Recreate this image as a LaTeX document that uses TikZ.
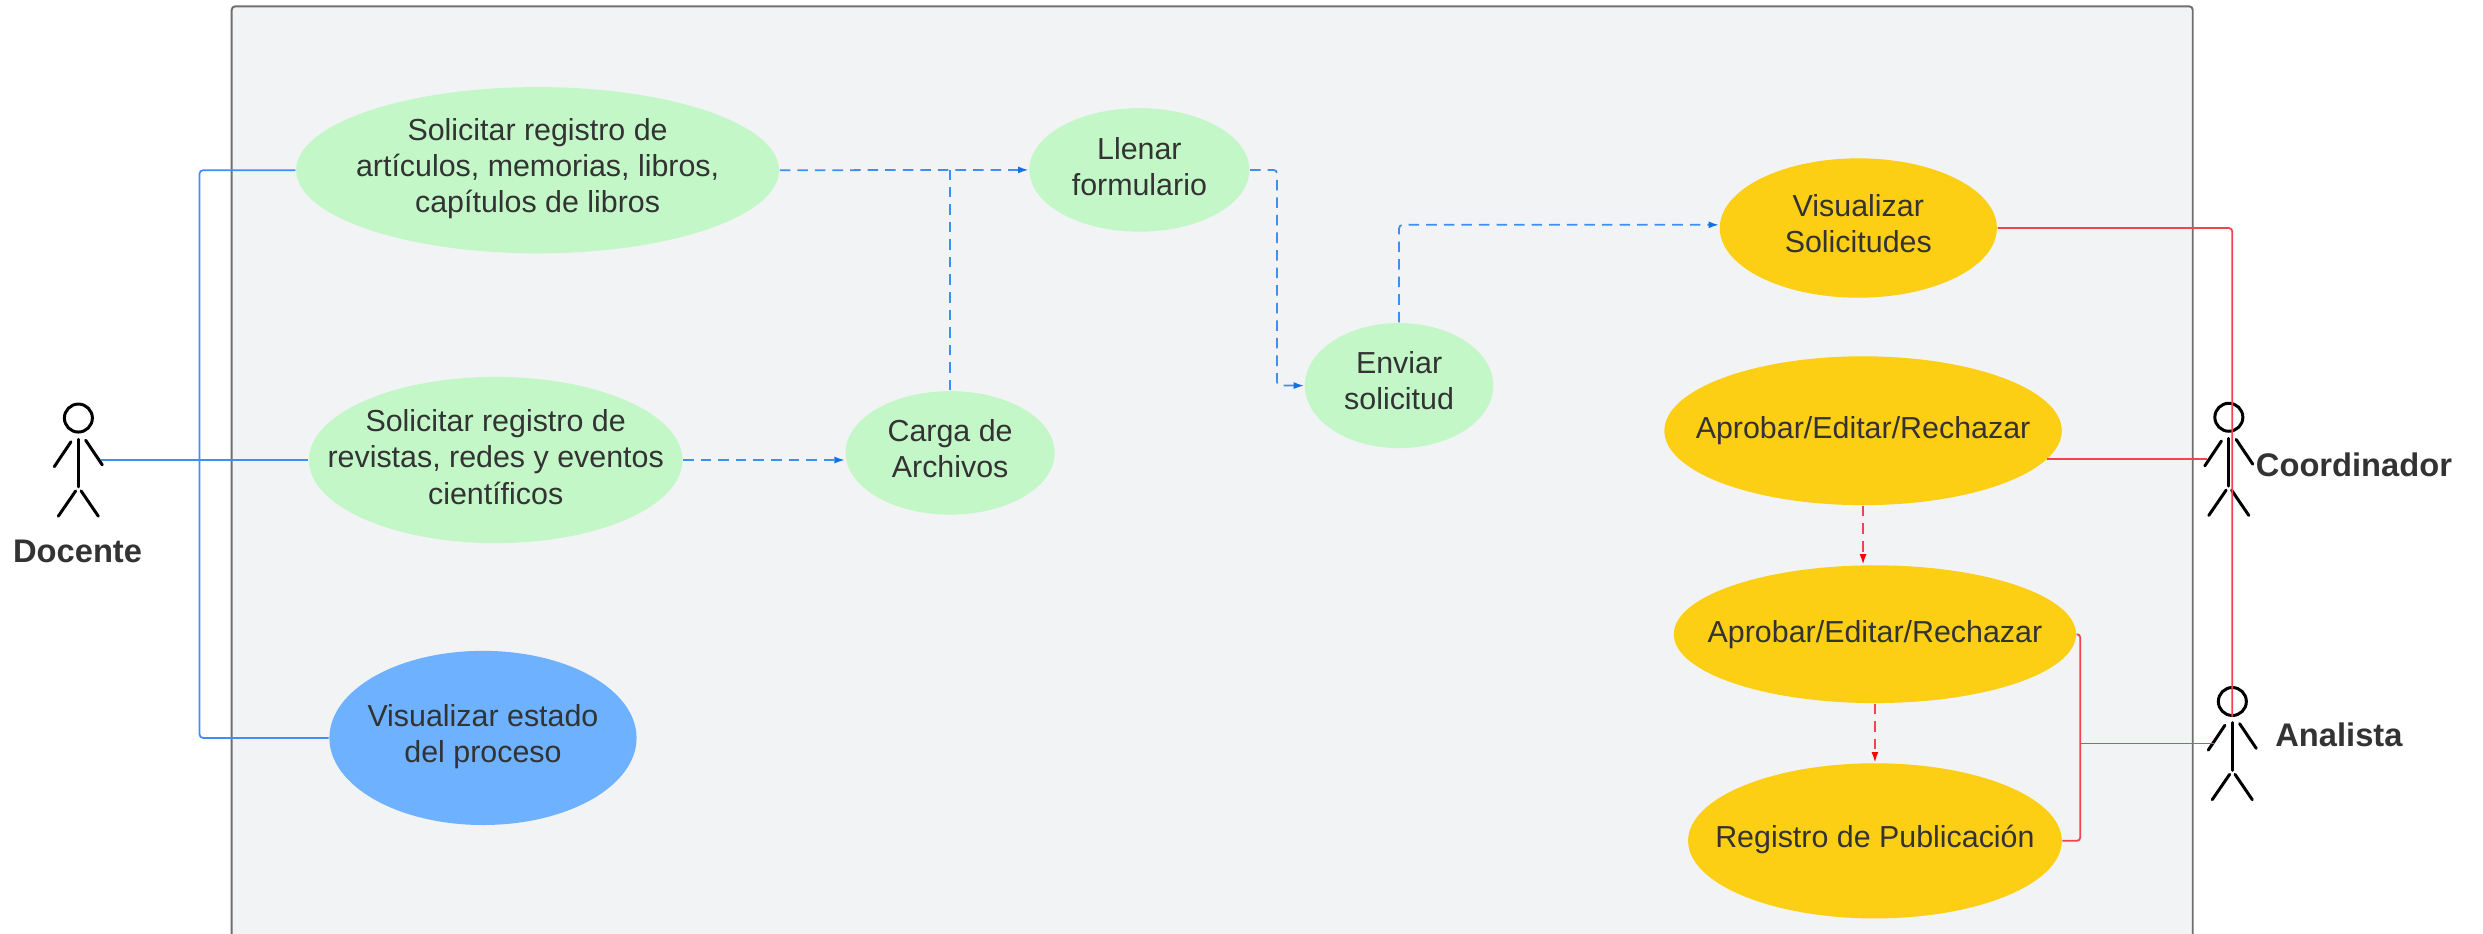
\documentclass[tikz,border=0pt]{standalone}
\usepackage{fontspec}
\setmainfont{Liberation Sans}
\usetikzlibrary{arrows.meta,shapes.geometric}
\definecolor{txt}{HTML}{333333}
\definecolor{framefill}{HTML}{F2F3F5}
\definecolor{framedraw}{HTML}{6F6F6F}
\definecolor{greenuc}{HTML}{C3F7C8}
\definecolor{yellowuc}{HTML}{FCCE14}
\definecolor{blueuc}{HTML}{6DB1FF}
\definecolor{bluelink}{HTML}{3F8FF2}
\definecolor{bluetip}{HTML}{1071E5}
\definecolor{redlink}{HTML}{F04450}
\newcommand{\dn}[1]{\rule[-#1pt]{0pt}{#1pt}}
\tikzset{
  uc/.style={ellipse,inner xsep=-30pt,inner ysep=-15pt,align=center,text=txt,font=\fontsize{8.65}{10.3}\selectfont},
  actorlabel/.style={text=txt,font=\fontsize{9.3}{11}\selectfont\bfseries,inner sep=0pt},
  limb/.style={black,line width=0.85pt,line cap=round},
  head/.style={circle,draw=black,line width=0.85pt,minimum size=2.8mm,inner sep=0pt,outer sep=0pt},
  bluesolid/.style={bluelink,line width=0.5pt,rounded corners=1pt},
  bluedash/.style={bluelink,line width=0.5pt,rounded corners=1pt,dash pattern=on 3pt off 2pt},
  reddash/.style={redlink,line width=0.5pt,dash pattern=on 3pt off 2pt},
  redsolid/.style={redlink,line width=0.5pt,rounded corners=1pt},
  bluetipped/.style={-{Latex[length=3pt,width=2pt,color=bluetip]}},
  redtipped/.style={-{Latex[length=3pt,width=2pt,color=red]}},
}
\newcommand{\stickman}[3]{%
  \node[head] (#1) at (#2,#3) {};
  \draw[limb] (#2,#3+13.4) -- (#2,#3+43.5);
  \draw[limb] (#2-4.7,#3+15) -- (#2-15.2,#3+30.7);
  \draw[limb] (#2+4.6,#3+14) -- (#2+15.1,#3+29.6);
  \draw[limb] (#2-1.7,#3+46) -- (#2-12.7,#3+62);
  \draw[limb] (#2+1.7,#3+46) -- (#2+12.6,#3+62);
}
\begin{document}
\begin{tikzpicture}[x=0.015835cm,y=-0.015835cm]
\useasboundingbox (0,0) rectangle (1568,589.8);
\path[clip] (0,0) rectangle (1568,589.8);
\draw[framedraw,fill=framefill,line width=0.55pt,rounded corners=1pt] (146.3,4) rectangle (1384.7,610);

\node[uc,fill=greenuc,minimum width=305*0.15835mm,minimum height=105*0.15835mm] (e1) at (339.5,107.5) {Solicitar registro de\\artículos, memorias, libros,\\capítulos de libros\dn{2.7}};
\node[uc,fill=greenuc,minimum width=236*0.15835mm,minimum height=105*0.15835mm] (e2) at (313,290.5) {Solicitar registro de\\revistas, redes y eventos\\científicos\dn{1.8}};
\node[uc,fill=blueuc,minimum width=194*0.15835mm,minimum height=110*0.15835mm] (e3) at (305,466) {Visualizar estado\\del proceso\dn{2.7}};
\node[uc,fill=greenuc,minimum width=132*0.15835mm,minimum height=78*0.15835mm] (carga) at (600,286) {Carga de\\Archivos\dn{2.7}};
\node[uc,fill=greenuc,minimum width=139*0.15835mm,minimum height=78*0.15835mm] (llenar) at (719.5,107.3) {Llenar\\formulario\dn{1.8}};
\node[uc,fill=greenuc,minimum width=119*0.15835mm,minimum height=79*0.15835mm] (enviar) at (883.5,243.5) {Enviar\\solicitud\dn{2.7}};
\node[uc,fill=yellowuc,minimum width=175*0.15835mm,minimum height=88*0.15835mm] (vis) at (1173.5,144) {Visualizar\\Solicitudes\dn{2.7}};
\node[uc,fill=yellowuc,minimum width=251*0.15835mm,minimum height=94*0.15835mm] (a1) at (1176.5,272) {Aprobar/Editar/Rechazar};
\node[uc,fill=yellowuc,minimum width=254*0.15835mm,minimum height=87*0.15835mm] (a2) at (1184,400.5) {Aprobar/Editar/Rechazar};
\node[uc,fill=yellowuc,minimum width=236*0.15835mm,minimum height=98*0.15835mm] (reg) at (1184,531) {Registro de Publicación\dn{2.7}};

\stickman{doc}{49.5}{264}
\stickman{coord}{1407.5}{263.5}
\stickman{ana}{1409.7}{443}

\node[actorlabel] (ldoc) at (49,348) {Docente};
\node[actorlabel] (lcoord) at (1486.5,293.5) {Coordinador};
\node[actorlabel] (lana) at (1477,464) {Analista};

\coordinate (dochand) at (64,290.5);
\coordinate (trunk) at (126,290.5);
\coordinate (coordarm) at (1394,290);
\coordinate (anaarm) at (1399,469.5);
\coordinate (anaend) at (1409.7,452.5);
\coordinate (rbus) at (1313.7,469.5);

% blue solid
\draw[bluesolid] (dochand) -- (e2.west);
\draw[bluesolid] (e1.west) -| (trunk) |- (e3.west);

% blue dashed
\draw[bluedash,bluetipped] (e1.east) -- (llenar.west);
\draw[bluedash] (carga.north) -- (carga.north |- llenar.west);
\draw[bluedash,bluetipped] (e2.east) -- (e2.east -| carga.west);
\draw[bluedash,bluetipped] (llenar.east) -- ++(17,0) |- (enviar.west);
\draw[bluedash,bluetipped] (enviar.north) |- (vis.west |- 0,142);

% red solid
\draw[redsolid] (vis.east) -| (anaend);
\draw[redsolid] (coordarm) -- (coordarm -| a1.-9.2);
\draw[redsolid] (a2.east) -| (rbus) |- (reg.east);
\draw[redsolid] (rbus) -- (anaarm);

% red dashed
\draw[reddash,redtipped] (a1.south) -- (a1.south |- a2.north);
\draw[reddash,redtipped] (a2.south) -- (reg.north);
\end{tikzpicture}
\end{document}
